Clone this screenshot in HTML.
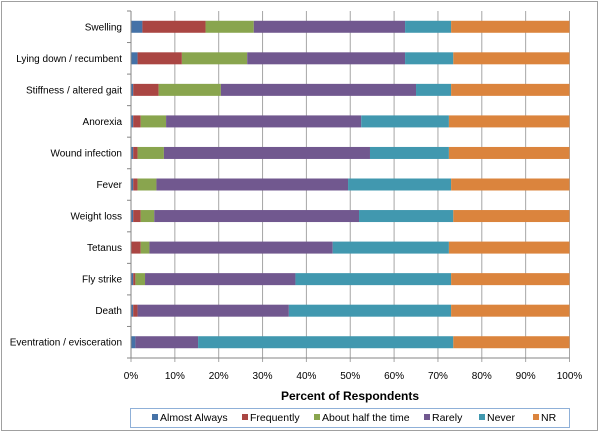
<!DOCTYPE html>
<html><head><meta charset="utf-8"><style>
body{margin:0;background:#fff;font-family:"Liberation Sans",sans-serif;}
svg text{font-family:"Liberation Sans",sans-serif;}
</style></head><body>
<svg width="600" height="433" id="chart">
<rect x="1.5" y="1.5" width="596" height="429" fill="#fff" stroke="#a0a0a0"/>
<g id="grid"></g><g id="bars"></g><g id="axes"></g>
<text x="350" y="400" text-anchor="middle" font-size="12" font-weight="bold" fill="#000">Percent of Respondents</text>
<rect x="130.5" y="408.5" width="439" height="19" fill="#fff" stroke="#8fb0d8"/>
<g id="legend"></g>
</svg>
<script>
const categories=["Swelling","Lying down / recumbent","Stiffness / altered gait","Anorexia","Wound infection","Fever","Weight loss","Tetanus","Fly strike","Death","Eventration / evisceration"];
const seriesNames=["Almost Always","Frequently","About half the time","Rarely","Never","NR"];
const almostAlways=[2.6,1.5,0.5,0.5,0.5,0.5,0.5,0,0.5,0.5,1];
const frequently=[14.4,10.1,5.8,1.7,1,1,1.7,2.2,0.5,1,0];
const aboutHalf=[11,14.9,14.2,5.8,6,4.3,3.1,2,2.2,0,0];
const rarely=[34.5,36,44.5,44.5,47,43.7,46.7,41.8,34.3,34.5,14.3];
const never=[10.5,11,8,20,18,23.5,21.5,26.5,35.5,37,58.2];
const nr=[27,26.5,27,27.5,27.5,27,26.5,27.5,27,27,26.5];
const ticks=["0%","10%","20%","30%","40%","50%","60%","70%","80%","90%","100%"];
const colors=["#4572a7","#aa4643","#89a54e","#71588f","#4198af","#db843d"];
const series=[almostAlways,frequently,aboutHalf,rarely,never,nr];
const NS="http://www.w3.org/2000/svg";
const X0=131,X1=569.5,Y0=11,Y1=358;
const step=(Y1-Y0)/categories.length;
const x=v=>X0+(X1-X0)*v/100;
const yc=i=>Y0+step*(i+0.5);
function mk(t,a,p){const e=document.createElementNS(NS,t);for(const k in a)e.setAttribute(k,a[k]);p.appendChild(e);return e;}
const grid=document.getElementById('grid'),axes=document.getElementById('axes'),bars=document.getElementById('bars'),leg=document.getElementById('legend');
ticks.forEach((t,i)=>{const xx=x(i*10);
 const l=mk('line',{x1:xx,x2:xx,y1:Y0,y2:Y1+4,stroke:'#a6a6a6'},grid);
 
 
 const tx=mk('text',{x:xx,y:379,'text-anchor':'middle','font-size':10,fill:'#000'},axes);tx.textContent=t;
 
 
});
const ax=mk('line',{x1:X0,x2:X0,y1:Y0,y2:Y1,stroke:'#868686'},axes);


const bx=mk('line',{x1:X0,x2:X1,y1:Y1,y2:Y1,stroke:'#868686'},axes);


for(let i=0;i<=categories.length;i++){const tk=mk('line',{x1:X0-4,x2:X0,y1:Y0+step*i,y2:Y0+step*i,stroke:'#868686'},axes);
 
 }
categories.forEach((c,i)=>{
 const t=mk('text',{x:122,y:yc(i)+3.5,'text-anchor':'end','font-size':10,fill:'#000'},axes);t.textContent=c;
 
 
 let cum=0;
 series.forEach((s,k)=>{const v=s[i];
  const r=mk('rect',{x:x(cum),y:yc(i)-6,width:Math.max(0,x(cum+v)-x(cum)),height:12,fill:colors[k]},bars);
  
  
  cum+=v;});
});
const lx=[160,250,322,432,487,541];
seriesNames.forEach((n,k)=>{
 const r=mk('rect',{x:lx[k]-8,y:414,width:6,height:6,fill:colors[k]},leg);
 
 
 const t=mk('text',{x:lx[k],y:421,'font-size':10.5,fill:'#000'},leg);t.textContent=n;
 
 
});
</script>
</body></html>
